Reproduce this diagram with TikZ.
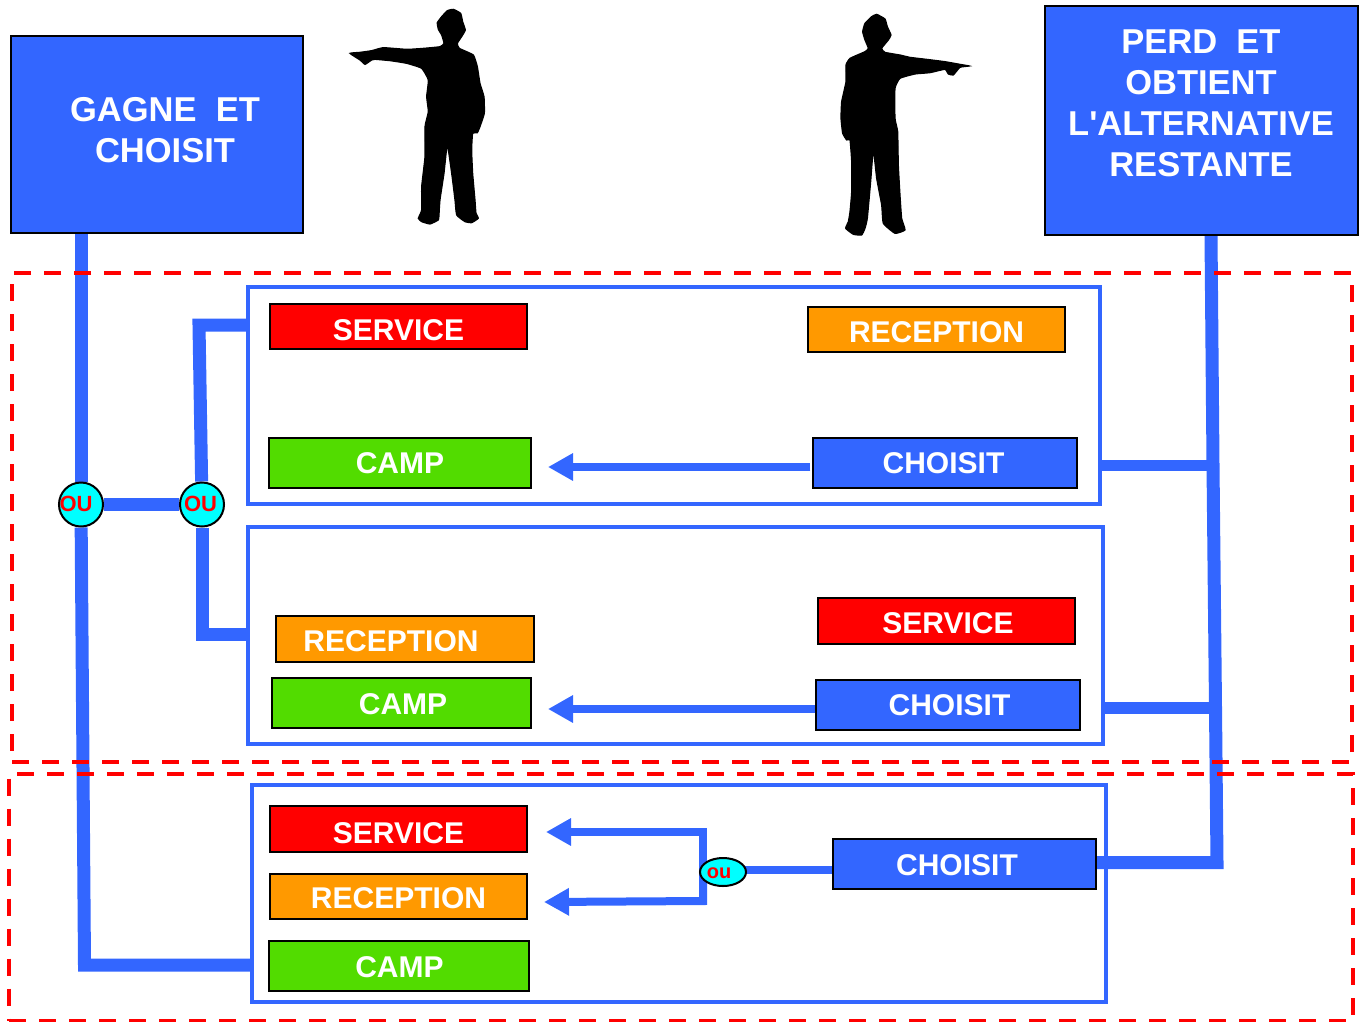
\documentclass[tikz,border=0pt]{standalone}
\usepackage{fontspec}
\setmainfont{Liberation Sans}
\usetikzlibrary{arrows.meta,backgrounds,shapes.geometric}
\definecolor{bl}{RGB}{51,102,255}
\definecolor{rd}{RGB}{255,0,0}
\definecolor{og}{RGB}{255,153,0}
\definecolor{gn}{RGB}{82,220,0}
\definecolor{cy}{RGB}{0,255,255}
\tikzset{
  x=1pt,y=-1pt,
  bigbox/.style={draw=black,line width=2pt,fill=bl,inner sep=0pt},
  bigtext/.style={text=white,font=\bfseries\fontsize{34.5}{41}\selectfont,align=center,inner sep=0pt},
  lab/.style={draw=black,line width=2pt,text=white,inner sep=0pt,text height=21.5pt,text depth=0pt,font=\bfseries\fontsize{30}{36}\selectfont},
  frm/.style={draw=bl,line width=4pt,inner sep=0pt},
  zone/.style={draw=rd,line width=4pt,dash pattern=on 17pt off 13pt,inner sep=0pt},
  heavy/.style={draw=bl,line width=13pt},
  thinl/.style={draw=bl,line width=8pt},
  arr/.style={thinl,-{Triangle[length=25pt,width=26pt]}},
  oucirc/.style={circle,draw=black,line width=2pt,fill=cy,minimum size=44pt,inner sep=0pt},
  oulab/.style={text=rd,font=\bfseries\fontsize{22}{24}\selectfont,inner sep=0pt},
  person/.style={fill=black,draw=black,line width=1.2pt},
}
% name, x1,y1,x2,y2, fill, right shift, down shift, text
\newcommand{\lb}[9]{%
  \pgfmathsetmacro{\cxx}{(#2+#4)/2}\pgfmathsetmacro{\cyy}{(#3+#5)/2}
  \pgfmathsetmacro{\ww}{#4-#2-0.5}\pgfmathsetmacro{\hh}{#5-#3-0.5}
  \node[lab,fill=#6,minimum width=\ww pt,minimum height=\hh pt] (#1) at (\cxx,\cyy) {\hspace*{#7pt}\raisebox{-#8pt}{#9}};}
\begin{document}
\begin{tikzpicture}
\useasboundingbox (0,0) rectangle (1362,1021);
% large boxes
\node[bigbox,minimum width=292pt,minimum height=197pt] (gagne) at (156.5,134) {};
\node[bigtext] (gagnetxt) at (165,130) {GAGNE\ \ ET\\CHOISIT};
\node[bigbox,minimum width=313pt,minimum height=229pt] (perd) at (1201,120) {};
\node[bigtext] (perdtxt) at (1201,103) {PERD\ \ ET\\OBTIENT\\L\textquotesingle ALTERNATIVE\\RESTANTE};
% silhouettes
\begin{scope}[shift={(340,0)},x=0.3333pt,y=-0.3333pt]
\filldraw[person] plot[smooth cycle,tension=0.25] coordinates {(30,160)(60,157)(95,152)(130,143)(200,148)(250,145)(300,140)(312,130)(305,105)(295,88)(292,68)(305,50)(322,32)(340,28)(362,40)(368,65)(376,90)(365,110)(352,130)(358,145)(400,165)(412,200)(420,250)(432,290)(433,340)(420,380)(412,398)(398,400)(395,450)(398,520)(405,600)(408,640)(415,655)(395,668)(375,665)(350,645)(345,600)(335,520)(322,435)(312,520)(300,600)(297,645)(295,660)(270,672)(245,665)(235,655)(245,630)(245,560)(255,470)(255,380)(265,335)(260,290)(265,240)(245,205)(200,190)(150,182)(105,178)(95,180)(75,193)(60,180)};
\end{scope}
\begin{scope}[shift={(830,5)},x=0.3333pt,y=-0.3333pt]
\filldraw[person] plot[smooth cycle,tension=0.25] coordinates {(418,183)(390,178)(345,170)(290,163)(240,157)(210,150)(165,142)(155,130)(175,105)(183,90)(172,65)(165,42)(140,28)(125,35)(105,55)(98,80)(105,105)(115,130)(105,140)(60,160)(48,180)(48,230)(35,290)(33,340)(38,385)(50,405)(60,405)(65,470)(65,560)(60,620)(55,650)(47,670)(70,688)(95,690)(105,670)(112,640)(122,530)(130,435)(140,520)(155,600)(160,655)(195,685)(225,675)(215,640)(210,570)(205,480)(203,380)(195,340)(195,250)(210,220)(255,207)(300,203)(345,193)(355,207)(370,210)(390,187)};
\end{scope}
% zones and frames
\node[zone,minimum width=1340pt,minimum height=489pt] (zone1) at (682,517.5) {};
\node[zone,minimum width=1344pt,minimum height=247pt] (zone2) at (681,897) {};
\node[frm,minimum width=852pt,minimum height=217pt] (frame1) at (674,395.5) {};
\node[frm,minimum width=855pt,minimum height=217pt] (frame2) at (675.5,635.5) {};
\node[frm,minimum width=854pt,minimum height=217pt] (frame3) at (679,893.5) {};
% labels
\lb{serv1}{270}{304}{527}{349}{rd}{0}{3.5}{SERVICE}
\lb{rec1}{808}{307}{1065}{352}{og}{0}{2.5}{RECEPTION}
\lb{camp1}{269}{438}{531}{488}{gn}{0}{0}{CAMP}
\lb{cho1}{813}{438}{1077}{488}{bl}{-3}{0}{CHOISIT}
\lb{rec2}{276}{616}{534}{662}{og}{-28}{2}{RECEPTION}
\lb{serv2}{818}{598}{1075}{644}{rd}{3}{2}{SERVICE}
\lb{camp2}{272}{678}{531}{728}{gn}{3}{1}{CAMP}
\lb{cho2}{816}{680}{1080}{730}{bl}{3}{0}{CHOISIT}
\lb{serv3}{270}{806}{527}{852}{rd}{0}{3.5}{SERVICE}
\lb{rec3}{270}{874}{527}{919}{og}{0}{1}{RECEPTION}
\lb{camp3}{269}{941}{529}{991}{gn}{1}{0.5}{CAMP}
\lb{cho3}{833}{839}{1096}{889}{bl}{-15}{1}{CHOISIT}
% or-nodes
\node[oucirc] (ou1) at (81,504.5) {};
\node[oulab] (ou1txt) at (76,504) {OU};
\node[oucirc] (ou2) at (202,504.5) {};
\node[oulab] (ou2txt) at (200.5,504) {OU};
\node[ellipse,draw=black,line width=2pt,fill=cy,minimum width=46pt,minimum height=28pt,inner sep=0pt] (ou3) at (723,872) {};
\node[text=rd,font=\bfseries\fontsize{20}{22}\selectfont,inner sep=0pt] (ou3txt) at (719,873.5) {ou};
% free coordinates
\coordinate (tgt1) at (548,467);
\coordinate (tgt2) at (548,709);
\coordinate (tgt3) at (546,832);
\coordinate (tgt4) at (544,902);
\coordinate (jl) at (84.5,965);
\coordinate (jm1) at (199,325);
\coordinate (jm2) at (202,634);
\coordinate (jr0) at (1211,235);
\coordinate (jr1) at (1213,465);
\coordinate (jr2) at (1215.5,708);
\coordinate (jr3) at (1217,862.5);
\coordinate (ja) at (703,832);
\coordinate (jb) at (703,901);
\coordinate (jc) at (800,870);
\begin{scope}[on background layer]
\draw[heavy] (ou1) -- (ou1 |- gagne.south);
\draw[heavy,line join=miter] (ou1) -- (jl) -- (frame3.west |- jl);
\draw[heavy] (ou1) -- (ou2);
\draw[heavy,line join=miter] (frame1.west |- jm1) -- (jm1) -- (ou2);
\draw[heavy,line join=miter] (ou2) -- (jm2) -- (frame2.west |- jm2);
\draw[heavy,line join=miter] (jr0) -- (jr1) -- (jr2) -- (jr3) -- (cho3.east |- jr3);
\draw[heavy,line width=11pt] (frame1.east |- jr1) -- (jr1);
\draw[heavy,line width=12pt] (frame2.east |- jr2) -- (jr2);
\draw[thinl] (ou3 |- jc) -- (cho3.west |- jc);
\draw[arr,line join=miter] (ou3.north west -| ja) -- (ja) -- (tgt3);
\draw[arr,line join=miter] (ou3.south west -| jb) -- (jb) -- (tgt4);
\draw[thinl] (ja) -- (jb);
\end{scope}
\draw[arr] (cho1.west |- tgt1) ++(-2,0) -- (tgt1);
\draw[arr] (cho2.west |- tgt2) -- (tgt2);
\end{tikzpicture}
\end{document}
